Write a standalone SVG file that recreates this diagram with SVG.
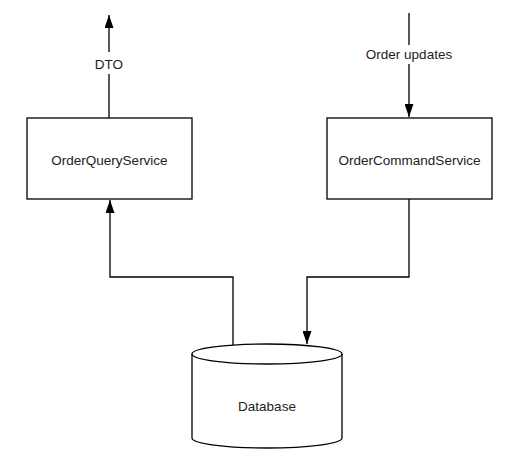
<svg xmlns="http://www.w3.org/2000/svg" width="517" height="458" viewBox="0 0 517 458">
<style>
.box{fill:#fff;stroke:#000;stroke-width:1.3}
.lbl{font-family:"Liberation Sans",Arial,sans-serif;font-size:13.5px;fill:#222;text-anchor:middle;dominant-baseline:central}
.conn{fill:none;stroke:#000;stroke-width:1.3}
</style>
<defs>
<marker id="arr" viewBox="0 0 13 9" refX="13" refY="4.5" markerWidth="13" markerHeight="9" markerUnits="userSpaceOnUse" orient="auto" preserveAspectRatio="none">
<path d="M0,0 L13,4.5 L0,9 z" fill="#000"/>
</marker>
</defs>
<rect width="517" height="458" fill="#fff"/>
<g id="connectors">
<path class="conn" d="M109,118 V74 M109,52 V15" marker-end="url(#arr)"/>
<path class="conn" d="M409,13 V45 M409,64 V117" marker-end="url(#arr)"/>
<path class="conn" d="M233,345 V277 H110 V200" marker-end="url(#arr)"/>
<path class="conn" d="M409,199 V277 H307 V344" marker-end="url(#arr)"/>
<text class="lbl" x="109" y="64">DTO</text>
<text class="lbl" x="409" y="54">Order updates</text>
</g>
<g id="query">
<rect class="box" x="27" y="118" width="165" height="81"/>
<text class="lbl" x="109.5" y="160">OrderQueryService</text>
</g>
<g id="command">
<rect class="box" x="327" y="118" width="165" height="81"/>
<text class="lbl" x="409.5" y="160">OrderCommandService</text>
</g>
<g id="database">
<path class="box" d="M192,354 V438 A75,10 0 0 0 342,438 V354 A75,10 0 0 0 192,354 Z"/>
<path class="box" style="fill:none" d="M192,354 A75,10 0 0 0 342,354"/>
<text class="lbl" x="267" y="406">Database</text>
</g>
</svg>
